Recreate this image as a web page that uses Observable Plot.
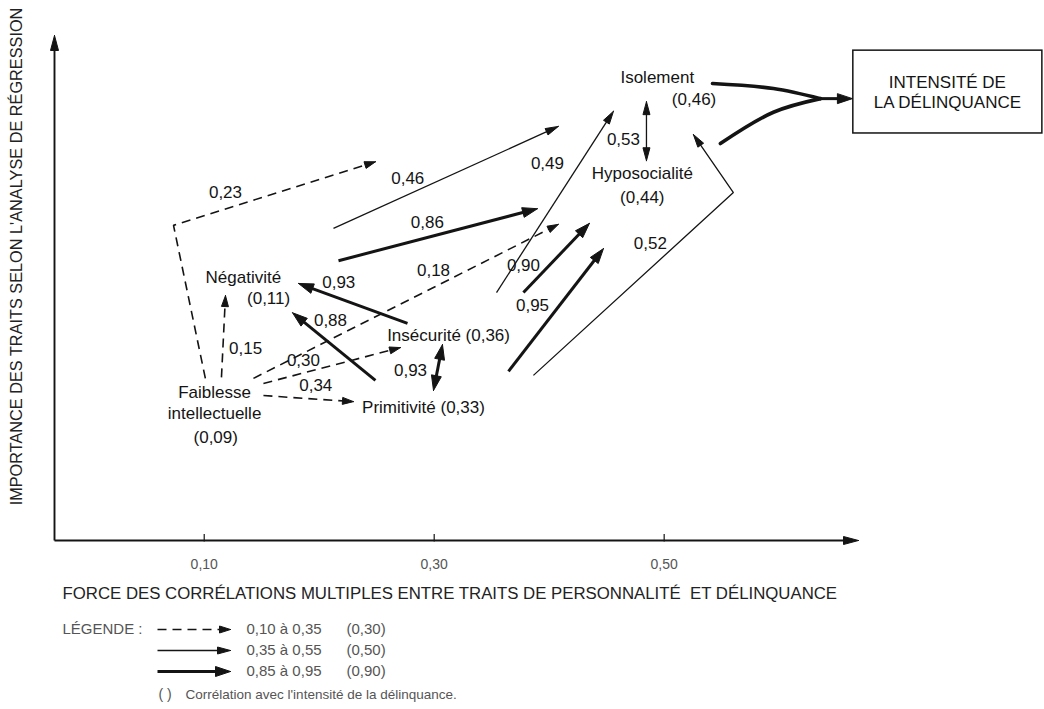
<!DOCTYPE html>
<html><head><meta charset="utf-8">
<script src="https://cdn.jsdelivr.net/npm/d3@7"></script>
<script src="https://cdn.jsdelivr.net/npm/@observablehq/plot@0.6"></script>
<style>body{margin:0;background:#fff;}#chart svg{display:block;}</style>
</head><body><div id="chart"></div>
<script>
// ---------- data ----------
const xTicks = [0.10, 0.30, 0.50];
const xTickLabels = ["0,10", "0,30", "0,50"];

const nodeLabels = [
  {text: "Isolement", x: 0.494, y: 91.7},
  {text: "(0,46)", x: 0.526, y: 87.3},
  {text: "Hyposocialité", x: 0.481, y: 72.7},
  {text: "(0,44)", x: 0.481, y: 67.9},
  {text: "Négativité", x: 0.134, y: 52.1},
  {text: "(0,11)", x: 0.156, y: 47.9},
  {text: "Insécurité (0,36)", x: 0.3125, y: 40.6},
  {text: "Primitivité (0,33)", x: 0.2907, y: 26.3},
  {text: "Faiblesse", x: 0.109, y: 29.3},
  {text: "intellectuelle", x: 0.109, y: 25.1},
  {text: "(0,09)", x: 0.110, y: 20.4}
];

const coefLabels = [
  {text: "0,23", x: 0.1185, y: 68.9},
  {text: "0,46", x: 0.277, y: 71.7},
  {text: "0,86", x: 0.294, y: 63.0},
  {text: "0,49", x: 0.3985, y: 74.7},
  {text: "0,93", x: 0.217, y: 51.1},
  {text: "0,18", x: 0.2994, y: 53.5},
  {text: "0,88", x: 0.2098, y: 43.6},
  {text: "0,15", x: 0.136, y: 38.0},
  {text: "0,30", x: 0.1863, y: 35.6},
  {text: "0,34", x: 0.197, y: 30.7},
  {text: "0,93", x: 0.2794, y: 33.7},
  {text: "0,90", x: 0.3776, y: 54.5},
  {text: "0,95", x: 0.3855, y: 46.5},
  {text: "0,52", x: 0.488, y: 58.8},
  {text: "0,53", x: 0.4646, y: 79.4}
];

// links between traits: type = strength class, heads = 1 (end) or 2 (both ends)
const links = [
  {id: "l023", type: "dashed", heads: 1, pts: [[0.101, 32.1], [0.0733, 62.4], [0.249, 75.0]]},
  {id: "l015", type: "dashed", heads: 1, pts: [[0.115, 32.3], [0.1185, 48.5]]},
  {id: "l018", type: "dashed", heads: 1, pts: [[0.1428, 32.1], [0.408, 62.6]]},
  {id: "l030", type: "dashed", heads: 1, pts: [[0.1515, 31.1], [0.2707, 38.2]]},
  {id: "l034", type: "dashed", heads: 1, pts: [[0.1515, 28.7], [0.2298, 27.5]]},
  {id: "l046", type: "thin", heads: 1, pts: [[0.2124, 61.8], [0.408, 82.0]]},
  {id: "l049", type: "thin", heads: 1, pts: [[0.3542, 49.1], [0.4559, 85.0]]},
  {id: "l052", type: "thin", heads: 1, pts: [[0.3863, 32.7], [0.5602, 68.9], [0.5254, 80.4]]},
  {id: "l053", type: "thin", heads: 2, pts: [[0.4846, 75.2], [0.4846, 86.9]]},
  {id: "l086", type: "thick", heads: 1, pts: [[0.2168, 55.4], [0.3898, 65.7]]},
  {id: "l093a", type: "thick", heads: 1, pts: [[0.2768, 43.0], [0.1820, 50.9]]},
  {id: "l088", type: "thick", heads: 1, pts: [[0.2489, 31.7], [0.1768, 45.1]]},
  {id: "l093b", type: "thick", heads: 2, pts: [[0.2994, 29.7], [0.3072, 38.8]]},
  {id: "l090", type: "thick", heads: 1, pts: [[0.3776, 49.1], [0.435, 62.8]]},
  {id: "l095", type: "thick", heads: 1, pts: [[0.3646, 33.5], [0.4472, 57.8]]},
  {id: "lout", type: "thick", heads: 1, pts: [[0.630, 87.5], [0.6637, 87.5]]}
];

const outcomeCurves = [
  {id: "cIso", pts: [[0.542, 90.5], [0.595, 89.5], [0.6359, 87.5]]},
  {id: "cHypo", pts: [[0.5489, 78.6], [0.595, 84.8], [0.6359, 87.5]]}
];

const outcomeBox = [{x1: 0.6645, x2: 0.8289, y1: 80.6, y2: 97.0}];
const outcomeText = [
  {text: "INTENSITÉ DE", x: 0.7463, y: 90.7},
  {text: "LA DÉLINQUANCE", x: 0.7463, y: 86.7}
];

const xTitle = "FORCE DES CORRÉLATIONS MULTIPLES ENTRE TRAITS DE PERSONNALITÉ  ET DÉLINQUANCE";
const yTitle = "IMPORTANCE DES TRAITS SELON L'ANALYSE DE RÉGRESSION";

const legendItems = [
  {type: "dashed", range: "0,10 à 0,35", typical: "(0,30)"},
  {type: "thin", range: "0,35 à 0,55", typical: "(0,50)"},
  {type: "thick", range: "0,85 à 0,95", typical: "(0,90)"}
];
const legendTitle = "LÉGENDE :";
const legendNote = ["( )", "Corrélation avec l'intensité de la délinquance."];

// ---------- layout ----------
const W = 1044, H = 709;
const mL = 54, mR = 186, mT = 35, mB = 169;
const xDomain = [-0.0302, 0.669], yDomain = [0, 100];
const kx = (W - mL - mR) / (xDomain[1] - xDomain[0]);
const ky = (H - mT - mB) / (yDomain[1] - yDomain[0]);
const X = px => xDomain[0] + (px - mL) / kx;      // pixel -> data helpers for furniture
const Y = py => yDomain[0] + (H - mB - py) / ky;

const styles = {
  dashed: {sw: 1.6, dash: "9,6", L: 11, Wd: 7},
  thin: {sw: 1.3, dash: null, L: 13, Wd: 7},
  thick: {sw: 3, dash: null, L: 15, Wd: 10},
  axis: {sw: 1.9, dash: null, L: 15, Wd: 8}
};

// axes as arrows
const axisLinks = [
  {id: "ax", type: "axis", heads: 1, pts: [[xDomain[0], 0], [xDomain[1], 0]]},
  {id: "ay", type: "axis", heads: 1, pts: [[xDomain[0], 0], [xDomain[0], 100]]}
];

// legend arrows
const rowY = [Y(629), Y(650), Y(671)];
const legendLinks = legendItems.map((d, i) => ({id: "leg" + i, type: d.type, heads: 1, pts: [[X(157), rowY[i]], [X(230), rowY[i]]]}));

function headAt(tip, from, st) {
  const dx = (tip[0] - from[0]) * kx, dy = -(tip[1] - from[1]) * ky;
  const len = Math.hypot(dx, dy) || 1;
  const ux = dx / len, uy = dy / len;
  const bx = -st.L * ux, by = -st.L * uy;
  const nx = -uy * st.Wd / 2, ny = ux * st.Wd / 2;
  const toData = (ox, oy) => [tip[0] + ox / kx, tip[1] - oy / ky];
  return {tri: [tip, toData(bx + nx, by + ny), toData(bx - nx, by - ny), tip],
          shaftEnd: toData(-0.75 * st.L * ux, -0.75 * st.L * uy)};
}

const shafts = [], heads = [];
for (const l of [...links, ...axisLinks, ...legendLinks]) {
  const st = styles[l.type];
  const pts = l.pts.map(p => p.slice());
  const n = pts.length;
  const h1 = headAt(l.pts[n - 1], l.pts[n - 2], st);
  pts[n - 1] = h1.shaftEnd;
  h1.tri.forEach(p => heads.push({id: l.id + "e", type: l.type, x: p[0], y: p[1]}));
  if (l.heads === 2) {
    const h0 = headAt(l.pts[0], l.pts[1], st);
    pts[0] = h0.shaftEnd;
    h0.tri.forEach(p => heads.push({id: l.id + "s", type: l.type, x: p[0], y: p[1]}));
  }
  pts.forEach(p => shafts.push({id: l.id, type: l.type, x: p[0], y: p[1]}));
}
const curveRows = outcomeCurves.flatMap(c => c.pts.map(p => ({id: c.id, x: p[0], y: p[1]})));

const ink = "#141414";
const shaftMarks = Object.keys(styles).map(t => Plot.line(shafts.filter(d => d.type === t), {
  x: "x", y: "y", z: "id", stroke: ink, strokeWidth: styles[t].sw,
  strokeDasharray: styles[t].dash, strokeLinejoin: "miter", strokeLinecap: "butt"
}));

const chart = Plot.plot({
  width: W, height: H,
  marginLeft: mL, marginRight: mR, marginTop: mT, marginBottom: mB,
  x: {domain: xDomain, axis: null},
  y: {domain: yDomain, axis: null},
  style: {fontFamily: "'Liberation Sans', Arial, Helvetica, sans-serif", background: "#fff", color: ink},
  marks: [
    ...shaftMarks,
    Plot.line(heads, {x: "x", y: "y", z: "id", fill: ink, stroke: ink, strokeWidth: 1, strokeLinejoin: "miter"}),
    Plot.line(curveRows, {x: "x", y: "y", z: "id", curve: "catmull-rom", stroke: ink, strokeWidth: 3.6}),
    Plot.ruleX(xTicks, {x: d => d, y1: -0.3, y2: 1.2, stroke: ink, strokeWidth: 1.2}),
    Plot.text(xTicks, {x: d => d, y: Y(564), text: (d, i) => xTickLabels[i], fontSize: 14, fill: "#555"}),
    Plot.rect(outcomeBox, {x1: "x1", x2: "x2", y1: "y1", y2: "y2", fill: "none", stroke: ink, strokeWidth: 1.5}),
    Plot.text(outcomeText, {x: "x", y: "y", text: "text", fontSize: 17, fill: ink}),
    Plot.text(nodeLabels, {x: "x", y: "y", text: "text", fontSize: 17, fill: ink}),
    Plot.text(coefLabels, {x: "x", y: "y", text: "text", fontSize: 17, fill: ink}),
    Plot.text([yTitle], {x: X(16), y: Y(256), text: d => d, rotate: -90, fontSize: 16.3, fill: "#222"}),
    Plot.text([xTitle], {x: X(62), y: Y(593), text: d => d, textAnchor: "start", fontSize: 16.8, fill: "#222"}),
    Plot.text([legendTitle], {x: X(62), y: rowY[0], text: d => d, textAnchor: "start", fontSize: 15, fill: "#555"}),
    Plot.text(legendItems, {x: X(246), y: (d, i) => rowY[i], text: "range", textAnchor: "start", fontSize: 15, fill: "#555"}),
    Plot.text(legendItems, {x: X(346), y: (d, i) => rowY[i], text: "typical", textAnchor: "start", fontSize: 15, fill: "#555"}),
    Plot.text([legendNote[0]], {x: X(158), y: Y(694), text: d => d, textAnchor: "start", fontSize: 14, fill: "#555"}),
    Plot.text([legendNote[1]], {x: X(185), y: Y(694), text: d => d, textAnchor: "start", fontSize: 13.5, fill: "#555"})
  ]
});
document.getElementById("chart").appendChild(chart);
</script>
</body></html>
